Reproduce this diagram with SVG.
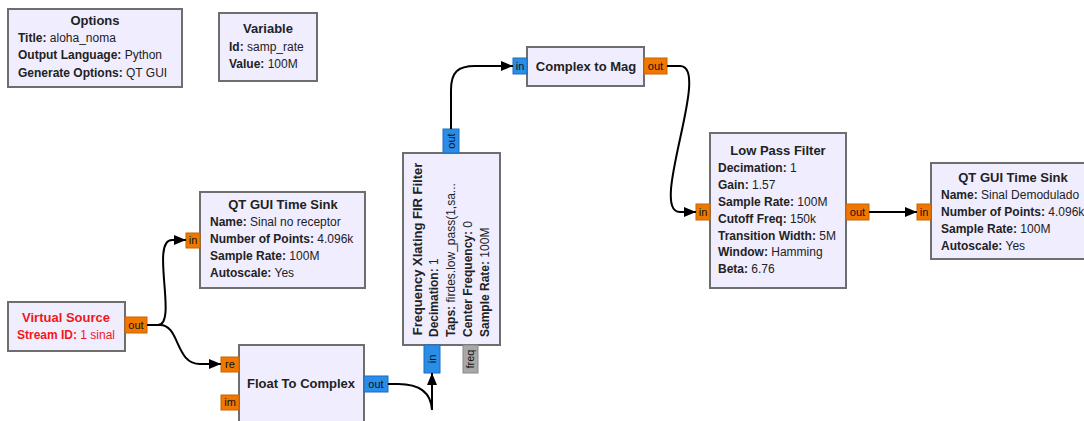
<svg xmlns="http://www.w3.org/2000/svg" width="1084" height="421" viewBox="0 0 1084 421">
  <style>
    .blk { fill: #f0edff; stroke: #6e6e6e; stroke-width: 2; }
    .t { font-family: "Liberation Sans", Arial, sans-serif; font-size: 12px; fill: #222; }
    .k { font-weight: bold; }
    .ttl { font-family: "Liberation Sans", Arial, sans-serif; font-size: 13px; font-weight: bold; fill: #222; text-anchor: middle; }
    .red { fill: #f01818; }
    .po { fill: #f07800; stroke: #c86400; stroke-width: 1; }
    .pb { fill: #2a8de8; stroke: #1a6fc0; stroke-width: 1; }
    .pg { fill: #a8a8a8; stroke: #888; stroke-width: 1; }
    .pl { font-family: "Liberation Sans", Arial, sans-serif; font-size: 11px; fill: #111; text-anchor: middle; }
    .wire { fill: none; stroke: #000; stroke-width: 2; marker-end: url(#arr); }
  </style>
  <defs>
    <marker id="arr" viewBox="0 0 12 10" refX="12" refY="5" markerWidth="12" markerHeight="10" markerUnits="userSpaceOnUse" orient="auto">
      <path d="M0,0 L12,5 L0,10 Z" fill="#000"/>
    </marker>
  </defs>
  <rect width="1084" height="421" fill="#fff"/>

  <!-- Options -->
  <g id="options">
    <rect class="blk" x="8" y="9" width="174" height="78"/>
    <text class="ttl" x="95" y="25">Options</text>
    <text class="t" x="18" y="42"><tspan class="k">Title:</tspan> aloha_noma</text>
    <text class="t" x="18" y="59"><tspan class="k">Output Language:</tspan> Python</text>
    <text class="t" x="18" y="77"><tspan class="k">Generate Options:</tspan> QT GUI</text>
  </g>

  <!-- Variable -->
  <g id="variable">
    <rect class="blk" x="219" y="13" width="98" height="68"/>
    <text class="ttl" x="268" y="33">Variable</text>
    <text class="t" x="229" y="51"><tspan class="k">Id:</tspan> samp_rate</text>
    <text class="t" x="229" y="68"><tspan class="k">Value:</tspan> 100M</text>
  </g>

  <!-- Complex to Mag -->
  <g id="complex_to_mag">
    <rect class="blk" x="527" y="47" width="117" height="39"/>
    <text class="ttl" x="586" y="71">Complex to Mag</text>
    <rect class="pb" x="513" y="58" width="14" height="16"/>
    <text class="pl" x="520" y="70">in</text>
    <rect class="po" x="644" y="58" width="23" height="16"/>
    <text class="pl" x="655.5" y="70">out</text>
  </g>

  <!-- Frequency Xlating FIR Filter (rotated) -->
  <g id="freq_xlating">
    <rect class="blk" x="403" y="153" width="97" height="192"/>
    <text class="ttl" transform="translate(422,249) rotate(-90)">Frequency Xlating FIR Filter</text>
    <text class="t" transform="translate(438,337) rotate(-90)"><tspan class="k">Decimation:</tspan> 1</text>
    <text class="t" transform="translate(455,337) rotate(-90)"><tspan class="k">Taps:</tspan> firdes.low_pass(1,sa...</text>
    <text class="t" transform="translate(472,337) rotate(-90)"><tspan class="k">Center Frequency:</tspan> 0</text>
    <text class="t" transform="translate(489,337) rotate(-90)"><tspan class="k">Sample Rate:</tspan> 100M</text>
    <rect class="pb" x="443" y="129" width="16" height="24"/>
    <text class="pl" transform="translate(455,141) rotate(-90)">out</text>
    <rect class="pb" x="424" y="345" width="16" height="28"/>
    <text class="pl" transform="translate(436,359) rotate(-90)">in</text>
    <rect class="pg" x="463" y="345" width="15" height="28"/>
    <text class="pl" transform="translate(474,359) rotate(-90)">freq</text>
  </g>

  <!-- Low Pass Filter -->
  <g id="low_pass_filter">
    <rect class="blk" x="710" y="133" width="136" height="155"/>
    <text class="ttl" x="778" y="155">Low Pass Filter</text>
    <text class="t" x="718" y="172"><tspan class="k">Decimation:</tspan> 1</text>
    <text class="t" x="718" y="189"><tspan class="k">Gain:</tspan> 1.57</text>
    <text class="t" x="718" y="206"><tspan class="k">Sample Rate:</tspan> 100M</text>
    <text class="t" x="718" y="223"><tspan class="k">Cutoff Freq:</tspan> 150k</text>
    <text class="t" x="718" y="240"><tspan class="k">Transition Width:</tspan> 5M</text>
    <text class="t" x="718" y="256"><tspan class="k">Window:</tspan> Hamming</text>
    <text class="t" x="718" y="273"><tspan class="k">Beta:</tspan> 6.76</text>
    <rect class="po" x="696" y="204" width="14" height="16"/>
    <text class="pl" x="703" y="216">in</text>
    <rect class="po" x="846" y="204" width="23" height="16"/>
    <text class="pl" x="857.5" y="216">out</text>
  </g>

  <!-- QT GUI Time Sink (demodulated) -->
  <g id="time_sink_demod">
    <rect class="blk" x="931" y="163" width="165" height="96"/>
    <text class="ttl" x="1013" y="182">QT GUI Time Sink</text>
    <text class="t" x="941" y="199"><tspan class="k">Name:</tspan> Sinal Demodulado</text>
    <text class="t" x="941" y="216"><tspan class="k">Number of Points:</tspan> 4.096k</text>
    <text class="t" x="941" y="233"><tspan class="k">Sample Rate:</tspan> 100M</text>
    <text class="t" x="941" y="250"><tspan class="k">Autoscale:</tspan> Yes</text>
    <rect class="po" x="917" y="204" width="14" height="16"/>
    <text class="pl" x="924" y="216">in</text>
  </g>

  <!-- QT GUI Time Sink (receiver) -->
  <g id="time_sink_rx">
    <rect class="blk" x="200" y="192" width="165" height="96"/>
    <text class="ttl" x="283" y="209">QT GUI Time Sink</text>
    <text class="t" x="210" y="226"><tspan class="k">Name:</tspan> Sinal no receptor</text>
    <text class="t" x="210" y="243"><tspan class="k">Number of Points:</tspan> 4.096k</text>
    <text class="t" x="210" y="260"><tspan class="k">Sample Rate:</tspan> 100M</text>
    <text class="t" x="210" y="277"><tspan class="k">Autoscale:</tspan> Yes</text>
    <rect class="po" x="186" y="233" width="14" height="15"/>
    <text class="pl" x="193" y="244">in</text>
  </g>

  <!-- Virtual Source -->
  <g id="virtual_source">
    <rect class="blk" x="8" y="302" width="117" height="49"/>
    <text class="ttl red" x="66" y="322">Virtual Source</text>
    <text class="t red" x="66" y="339" text-anchor="middle"><tspan class="k">Stream ID:</tspan> 1 sinal</text>
    <rect class="po" x="125" y="317" width="22" height="16"/>
    <text class="pl" x="136" y="329">out</text>
  </g>

  <!-- Float To Complex -->
  <g id="float_to_complex">
    <rect class="blk" x="239" y="345" width="125" height="90"/>
    <text class="ttl" x="301" y="388">Float To Complex</text>
    <rect class="po" x="221" y="357" width="18" height="15"/>
    <text class="pl" x="230" y="368">re</text>
    <rect class="po" x="221" y="395" width="18" height="15"/>
    <text class="pl" x="230" y="406">im</text>
    <rect class="pb" x="364" y="376" width="24" height="16"/>
    <text class="pl" x="376" y="388">out</text>
  </g>

  <!-- Connections -->
  <g id="connectors">
    <path class="wire" d="M147,325 H158 C178,325 150,240 172,240 H186"/>
    <path class="wire" d="M147,325 H160 C180,325 175,364 200,364 H221"/>
    <path class="wire" d="M388,384 H398 C418,384 431,392 432,410 L432,373"/>
    <path class="wire" d="M451,129 V90 C451,72 458,66 475,66 H513"/>
    <path class="wire" d="M667,66 H680 C712,66 648,212 680,212 H696"/>
    <path class="wire" d="M869,212 H917"/>
  </g>
</svg>
